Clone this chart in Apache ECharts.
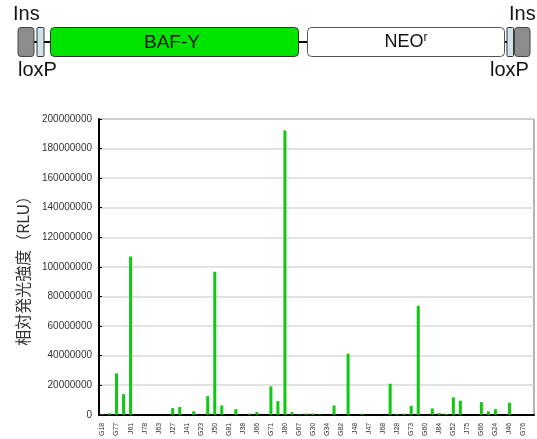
<!DOCTYPE html>
<html>
<head>
<meta charset="utf-8">
<script src="https://cdn.jsdelivr.net/npm/echarts@6.0.0/dist/echarts.min.js"></script>
<style>
  html, body { margin: 0; padding: 0; background: #fff; }
  #barChart { width: 537px; height: 439px; }
</style>
</head>
<body>
<div id="barChart"></div>
<script>
// clone names, only every other one is printed on the axis
const categories = [
  "G18", "", "G77", "", "J61", "", "J78", "", "J63", "", "J27", "", "J41", "", "G23", "",
  "J50", "", "G81", "", "J38", "", "J66", "", "G71", "", "J80", "", "G67", "", "G30", "",
  "G34", "", "G82", "", "J48", "", "J47", "", "J68", "", "J28", "", "G73", "", "G60", "",
  "J84", "", "G52", "", "J75", "", "G66", "", "G24", "", "J46", "", "G76", ""
];
// RLU per clone
const rluValues = [
  300000, 1000000, 28000000, 14000000, 107000000, 0, 0, 0, 0, 0, 4500000, 5200000, 0, 2300000, 0, 12600000,
  96700000, 6300000, 0, 3800000, 0, 800000, 1800000, 0, 19200000, 9200000, 192300000, 1800000, 300000, 800000, 800000, 300000,
  0, 6300000, 0, 41300000, 0, 700000, 0, 0, 0, 21000000, 700000, 700000, 6100000, 73700000, 0, 4300000,
  1200000, 500000, 11700000, 9500000, 0, 0, 8600000, 2300000, 3800000, 0, 8100000, 0, 0, 0
];
const yTicks = { min: 0, max: 200000000, step: 20000000 };

const latin = "'Liberation Sans', Arial, sans-serif";
const cjk = "'Noto Sans CJK JP', 'Liberation Sans', sans-serif";

// construct drawing above the chart
function box(x, w, fill, stroke, r) {
  return {
    type: "rect",
    shape: { x: x, y: 27.5, width: w, height: 29, r: r },
    style: { fill: fill, stroke: stroke, lineWidth: 1 },
  };
}
function link(x1, x2) {
  return {
    type: "line",
    shape: { x1: x1, y1: 42, x2: x2, y2: 42 },
    style: { stroke: "#000", lineWidth: 2 },
  };
}
function label(x, y, text, size, align) {
  return {
    type: "text",
    x: x,
    y: y,
    style: {
      text: text, fill: "#111", font: size + "px " + latin,
      align: align || "left", verticalAlign: "middle",
    },
  };
}

const construct = [
  link(34, 50), link(298, 308), link(504, 515),
  box(18, 16, "#8c8c8c", "#444", 3),
  box(37, 7, "#cfe3ea", "#333", 1),
  box(50.5, 248, "#00e400", "#333", 4),
  box(307.5, 197, "#ffffff", "#555", 4),
  box(507, 6.5, "#cfe3ea", "#333", 1),
  box(514.5, 15.5, "#8c8c8c", "#444", 3),
  label(13, 14, "Ins", 20),
  label(509, 14, "Ins", 20),
  label(18, 70, "loxP", 20),
  label(490, 70, "loxP", 20),
  label(172, 42.5, "BAF-Y", 19, "center"),
  {
    type: "text",
    x: 406,
    y: 42.5,
    style: {
      text: "{a|NEO}{b|r}",
      align: "center",
      verticalAlign: "middle",
      rich: {
        a: { font: "18px " + latin, fill: "#111" },
        b: { font: "12px " + latin, fill: "#111", verticalAlign: "top", padding: [0, 0, 9, 0] },
      },
    },
  },
];

const chart = echarts.init(document.getElementById("barChart"));
const option = {
  animation: false,
  graphic: construct,
  grid: {
    left: 99,
    right: 3,
    top: 119,
    bottom: 24,
    show: true,
    borderColor: "#666",
    borderWidth: 1,
  },
  xAxis: {
    type: "category",
    data: categories,
    axisLine: { lineStyle: { color: "#000", width: 2 } },
    axisTick: { interval: 0, length: 3, lineStyle: { color: "#000", width: 1.5 } },
    axisLabel: {
      interval: 0,
      rotate: 90,
      margin: 8,
      fontSize: 7,
      color: "#333",
      fontFamily: latin,
    },
  },
  yAxis: {
    type: "value",
    min: yTicks.min,
    max: yTicks.max,
    interval: yTicks.step,
    name: "相対発光強度（RLU）",
    nameLocation: "middle",
    nameRotate: 90,
    nameGap: 68,
    nameMoveOverlap: false,
    nameTextStyle: { fontSize: 16, color: "#333", fontFamily: cjk },
    axisLine: { show: true, lineStyle: { color: "#000", width: 2 } },
    axisTick: { show: true, inside: true, length: 3, lineStyle: { color: "#000" } },
    axisLabel: {
      fontSize: 10,
      color: "#333",
      margin: 7,
      fontFamily: latin,
      formatter: (v) => String(v),
    },
    splitLine: { lineStyle: { color: "#d8d8d8", width: 1.5 } },
  },
  series: [
    {
      type: "bar",
      data: rluValues,
      barWidth: 3,
      itemStyle: { color: "#10c810" },
    },
  ],
};
chart.setOption(option);
</script>
</body>
</html>
